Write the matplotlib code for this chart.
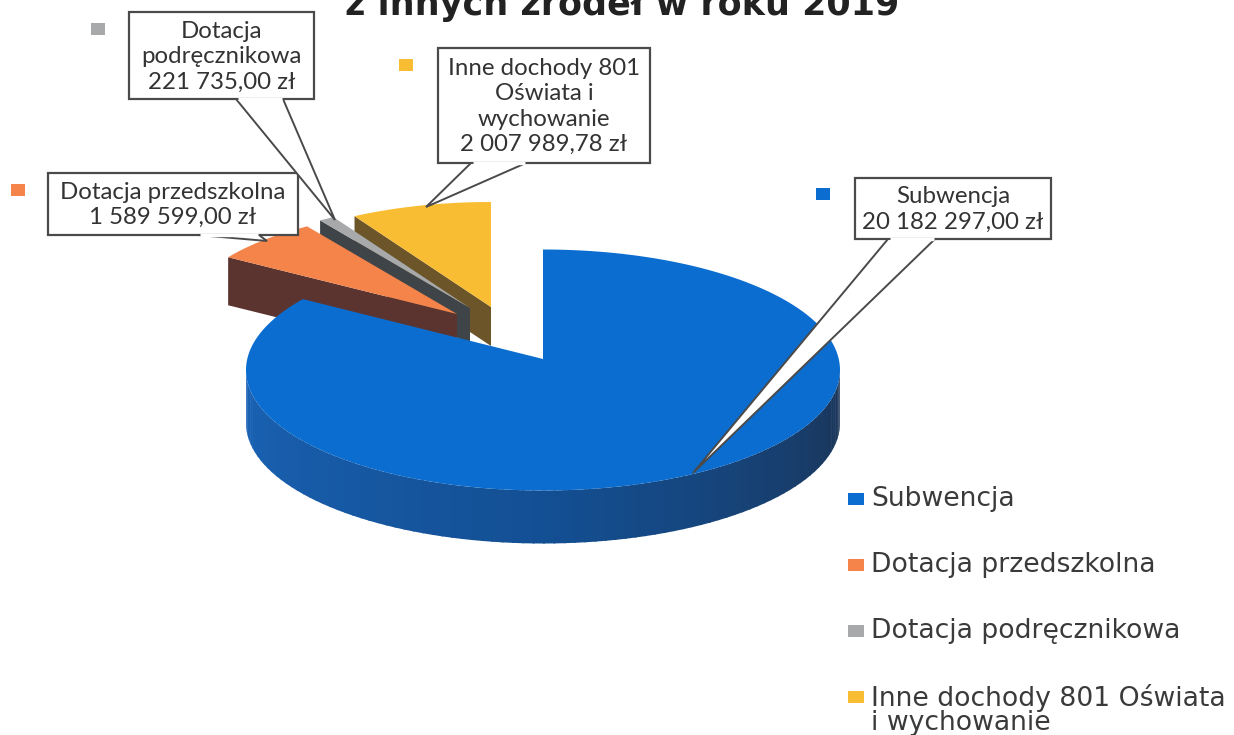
import numpy as np
import matplotlib
matplotlib.use('Agg')
import matplotlib.pyplot as plt
from matplotlib.colors import to_rgb

# dane
categories = ['Subwencja', 'Dotacja przedszkolna', 'Dotacja podręcznikowa', 'Inne dochody 801 Oświata i wychowanie']
values = [20182297.00, 1589599.00, 221735.00, 2007989.78]
value_labels = ['20 182 297,00 zł', '1 589 599,00 zł', '221 735,00 zł', '2 007 989,78 zł']
callout_names = ['Subwencja', 'Dotacja przedszkolna', 'Dotacja\npodręcznikowa', 'Inne dochody 801\nOświata i\nwychowanie']
legend_names = ['Subwencja', 'Dotacja przedszkolna', 'Dotacja podręcznikowa', 'Inne dochody 801 Oświata\ni wychowanie']
title = 'z innych źródeł w roku 2019'

top_colors = ['#0a6dcf', '#f5844a', '#a8a9ab', '#f8bd33']
side_colors = [None, '#5b3430', '#3f4448', '#6c5529']

fig = plt.figure(figsize=(12.34, 7.35), dpi=100)
ax = fig.add_axes([0, 0, 1, 1])
ax.set_xlim(0, 1234)
ax.set_ylim(735, 0)
ax.axis('off')

# katy wycinkow, zgodnie z ruchem wskazowek od gory
shares = np.array(values) / sum(values) * 360
ends = 90 - np.cumsum(shares)
starts = ends + shares

# wysuniete wycinki: wierzcholek, promienie, glebokosc
tips = {1: (457, 314), 2: (470, 308), 3: (491, 307)}
depths = {1: 48, 2: 37, 3: 39}
rx, ry = 272, 105


def arc(cx, cy, a0, a1, rx, ry, n=60):
    t = np.radians(np.linspace(a0, a1, n))
    return cx + rx * np.cos(t), cy - ry * np.sin(t)


# kolejnosc od tylu: zolty, szary, pomaranczowy, potem niebieski
for i in [3, 2, 1]:
    cx, cy = tips[i]
    d = depths[i]
    # plaszczyzna boczna od strony widza
    ex = cx + rx * np.cos(np.radians(starts[i]))
    ey = cy - ry * np.sin(np.radians(starts[i]))
    ax.fill([ex, cx, cx, ex], [ey, cy, cy + d, ey + d], color=side_colors[i], lw=0, zorder=2 + (3 - i))
    xs, ys = arc(cx, cy, starts[i], ends[i], rx, ry)
    ax.fill(np.r_[cx, xs], np.r_[cy, ys], color=top_colors[i], lw=0, zorder=2 + (3 - i) + 0.5)

# duzy wycinek
bx, by = 543, 370
brx, bry = 297, 120.5
bdepth = 53
apex = (543, 359)
left_col, mid_col, right_col = to_rgb('#1a63b6'), to_rgb('#134f93'), to_rgb('#1b3354')
sweep = np.linspace(180, 360, 91)
for a0, a1 in zip(sweep[:-1], sweep[1:]):
    xs, ys = arc(bx, by, a0, a1 + 0.4, brx, bry, n=6)
    f = (a0 - 180) / 180
    if f < 0.5:
        c = np.array(left_col) + (np.array(mid_col) - np.array(left_col)) * f * 2
    else:
        c = np.array(mid_col) + (np.array(right_col) - np.array(mid_col)) * (f - 0.5) * 2
    ax.fill(np.r_[xs, xs[::-1]], np.r_[ys, ys[::-1] + bdepth], color=c, lw=0, zorder=6)

# lekka korekta perspektywy dla kata
end_param = 90 - shares[0] * 1.011
xs, ys = arc(bx, by, 90, end_param, brx, bry, n=200)
ax.fill(np.r_[apex[0], xs], np.r_[apex[1], ys], color=top_colors[0], lw=0, zorder=7)

# objasnienia z dziobkiem
boxes = [(855, 178, 1051, 239), (48, 173, 298, 235), (129, 12, 314, 99), (438, 48, 650, 163)]
pointers = [[(888, 239), (693, 473), (935, 239)],
            [(198, 235), (267, 241), (259, 235)],
            [(236, 99), (335, 220), (283, 99)],
            [(471, 163), (426, 207), (526, 163)]]
key_pos = [(823, 194), (18, 190), (98, 29), (406, 65)]
edge = '#4a4a4a'
for i in range(4):
    x0, y0, x1, y1 = boxes[i]
    p = pointers[i]
    ax.fill([x0, x1, x1, x0], [y0, y0, y1, y1], facecolor='white', edgecolor=edge, lw=1.6, zorder=8)
    ax.fill([q[0] for q in p], [q[1] for q in p], facecolor='white', edgecolor=edge, lw=1.4, zorder=9)
    ax.plot([p[0][0] + 1.5, p[2][0] - 1.5], [p[0][1], p[2][1]], color='white', lw=2.4, zorder=10, solid_capstyle='butt')
    ax.text((x0 + x1) / 2, (y0 + y1) / 2 + 1, callout_names[i] + '\n' + value_labels[i], ha='center', va='center',
            family='Lato', fontsize=17.3, color='#333333', linespacing=1.26, zorder=11)
    kx, ky = key_pos[i]
    ax.fill([kx - 7, kx + 7, kx + 7, kx - 7], [ky - 6, ky - 6, ky + 6, ky + 6], color=top_colors[i], lw=0, zorder=8)

# legenda
legend_y = [499, 565, 631, 697]
for i in range(4):
    ax.fill([848, 864, 864, 848], [legend_y[i] - 6, legend_y[i] - 6, legend_y[i] + 6, legend_y[i] + 6],
            color=top_colors[i], lw=0)
    ax.text(871, legend_y[i] - 13, legend_names[i], ha='left', va='top', family='DejaVu Sans', fontsize=19.2,
            color='#3a3a3a', linespacing=0.88)

# tytul uciety u gory
ax.text(622, 15, title, ha='center', va='baseline', family='DejaVu Sans', weight='bold', fontsize=25.2, color='#222222')

fig.savefig('out.png', dpi=100)
